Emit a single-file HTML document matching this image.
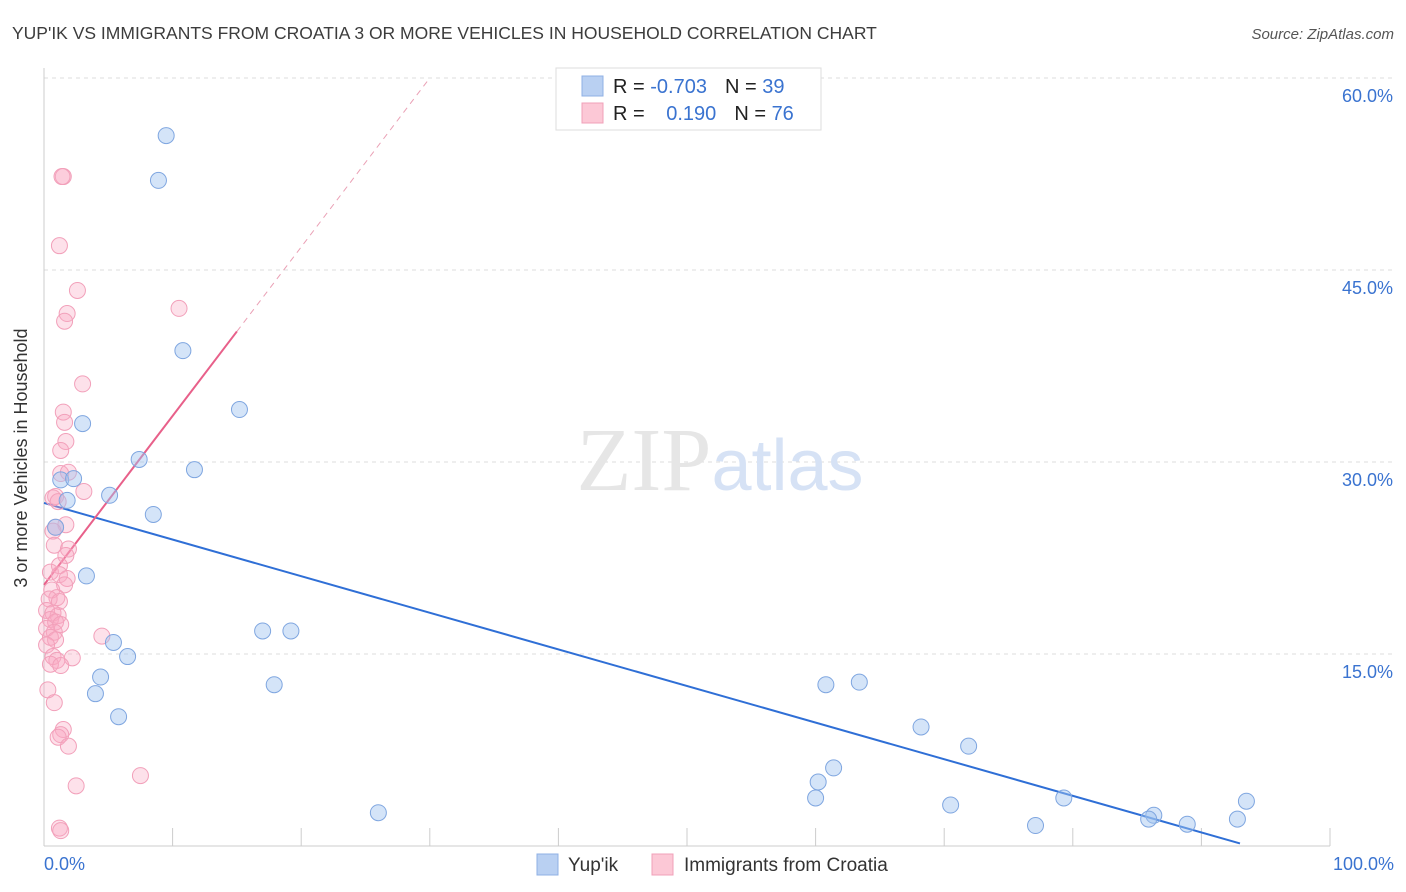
<!DOCTYPE html>
<html><head><meta charset="utf-8"><style>
body{margin:0;background:#fff;font-family:"Liberation Sans",sans-serif;}
svg{display:block}
</style></head><body>
<svg id="chart" width="1406" height="892" xmlns="http://www.w3.org/2000/svg">
<text x="12" y="39" font-size="17.5" fill="#3c3c3c">YUP'IK VS IMMIGRANTS FROM CROATIA 3 OR MORE VEHICLES IN HOUSEHOLD CORRELATION CHART</text>
<text x="1394" y="39" font-size="15" fill="#555" text-anchor="end" font-style="italic">Source: ZipAtlas.com</text>
<text x="27" y="458" font-size="18" fill="#333" text-anchor="middle" transform="rotate(-90 27 458)">3 or more Vehicles in Household</text>
<g id="grid"></g>
<g id="axes"></g>
<text x="720" y="490" font-size="90" fill="#e6e6e6" text-anchor="middle" font-family="Liberation Serif,serif">ZIP<tspan fill="#d6e2f5" font-family="Liberation Sans,sans-serif" font-size="72">atlas</tspan></text>
<g id="lines"></g>
<g id="points"></g>
<g>
<rect x="556" y="68" width="265" height="62" fill="#fff" stroke="#ddd"/>
<rect x="582" y="76" width="21" height="20" fill="#b9d0f2" stroke="#8fb0e4"/>
<rect x="582" y="103" width="21" height="20" fill="#fcc8d6" stroke="#f0a0b8"/>
<text x="613" y="93" font-size="20" fill="#222">R = <tspan fill="#3a73d0">-0.703</tspan><tspan dx="18">N = </tspan><tspan fill="#3a73d0">39</tspan></text>
<text x="613" y="120" font-size="20" fill="#222">R = <tspan fill="#3a73d0" dx="16">0.190</tspan><tspan dx="18">N = </tspan><tspan fill="#3a73d0">76</tspan></text>
</g>
<g>
<rect x="537" y="854" width="21" height="21" fill="#b9d0f2" stroke="#8fb0e4"/>
<text x="568" y="871" font-size="19" fill="#333">Yup'ik</text>
<rect x="652" y="854" width="21" height="21" fill="#fcc8d6" stroke="#f0a0b8"/>
<text x="684" y="871" font-size="19" fill="#333">Immigrants from Croatia</text>
</g>
</svg>
<script>
const yTicks=[15,30,45,60];
const yTickLabels=["15.0%","30.0%","45.0%","60.0%"];
const xEndLabels=["0.0%","100.0%"];
const blueX=[9.5,8.9,10.8,15.2,3.0,7.4,11.7,1.3,2.3,5.1,1.8,8.5,0.9,3.3,17.0,19.2,5.4,6.5,4.4,17.9,4.0,5.8,60.8,63.4,68.2,71.9,61.4,60.2,60.0,26.0,70.5,79.3,77.1,86.3,85.9,88.9,93.5,92.8];
const blueY=[55.5,52.0,38.7,34.1,33.0,30.2,29.4,28.6,28.7,27.4,27.0,25.9,24.9,21.1,16.8,16.8,15.9,14.8,13.2,12.6,11.9,10.1,12.6,12.8,9.3,7.8,6.1,5.0,3.75,2.6,3.2,3.75,1.6,2.4,2.1,1.7,3.5,2.1];
const pinkX=[1.5,1.4,1.2,2.6,10.5,1.8,1.6,3.0,1.5,1.6,1.7,1.3,1.3,1.9,3.1,0.9,0.7,1.1,1.7,0.9,0.7,0.8,1.9,1.7,1.2,0.5,1.2,1.8,1.6,0.6,1.0,0.4,1.2,0.2,0.7,1.1,0.5,0.9,1.3,0.2,0.8,0.5,0.9,4.5,0.2,0.7,2.2,1.0,0.5,1.3,0.3,0.8,1.5,1.3,1.1,1.9,7.5,2.5,1.2,1.3];
const pinkY=[52.3,52.3,46.9,43.4,42.0,41.6,41.0,36.1,33.9,33.1,31.6,30.9,29.1,29.2,27.7,27.3,27.2,26.9,25.1,24.9,24.6,23.5,23.2,22.7,21.9,21.4,21.2,20.9,20.4,20.0,19.4,19.3,19.1,18.4,18.2,18.0,17.7,17.5,17.3,17.0,16.7,16.3,16.1,16.4,15.7,14.8,14.7,14.5,14.2,14.1,12.2,11.2,9.1,8.7,8.5,7.8,5.5,4.7,1.4,1.2];
const blueFit=[26.8,-0.286];
const pinkFit=[20.4,1.32];
const NS="http://www.w3.org/2000/svg";
const sx=v=>44+v*12.86, sy=v=>846-v*12.8;
function mk(tag,attrs,parent){const e=document.createElementNS(NS,tag);for(const k in attrs)e.setAttribute(k,attrs[k]);parent.appendChild(e);return e;}
const grid=document.getElementById('grid'),axes=document.getElementById('axes'),lines=document.getElementById('lines'),pts=document.getElementById('points');
yTicks.forEach((t,i)=>{
 const l=mk('line',{x1:44,x2:1394,y1:sy(t),y2:sy(t),stroke:'#ddd','stroke-dasharray':'4 4'},grid);
 
 
 const tx=mk('text',{x:1393,y:sy(t)+24,'font-size':18,fill:'#3a73d0','text-anchor':'end'},axes);
 tx.textContent=yTickLabels[i];
 
 
});
const ya=mk('line',{x1:44,x2:44,y1:68,y2:846,stroke:'#ccc'},axes);


const xa=mk('line',{x1:44,x2:1330,y1:846,y2:846,stroke:'#ccc'},axes);


for(let i=1;i<=10;i++){
 const t=mk('line',{x1:sx(i*10),x2:sx(i*10),y1:828,y2:846,stroke:'#ccc'},axes);
 
 
}
[[0,'start',44],[100,'end',1394]].forEach((a,i)=>{
 const tx=mk('text',{x:a[2],y:870,'font-size':18,fill:'#3a73d0','text-anchor':a[1]},axes);
 tx.textContent=xEndLabels[i];
 
 
});
const bl=mk('line',{x1:sx(0),y1:sy(blueFit[0]),x2:sx(93.0),y2:sy(blueFit[0]+blueFit[1]*93.0),stroke:'#2f6fd6','stroke-width':2},lines);


const pl=mk('line',{x1:sx(0),y1:sy(pinkFit[0]),x2:sx(15),y2:sy(pinkFit[0]+pinkFit[1]*15),stroke:'#e8608a','stroke-width':2},lines);


const pd=mk('line',{x1:sx(15),y1:sy(pinkFit[0]+pinkFit[1]*15),x2:sx(30),y2:sy(pinkFit[0]+pinkFit[1]*30),stroke:'#eaa0b5','stroke-width':1,'stroke-dasharray':'6 5'},lines);


pinkX.forEach((x,i)=>{
 const c=mk('circle',{cx:sx(x),cy:sy(pinkY[i]),r:8,fill:'rgba(248,170,195,0.35)',stroke:'#f2a0ba','stroke-width':1},pts);
 
 
});
blueX.forEach((x,i)=>{
 const c=mk('circle',{cx:sx(x),cy:sy(blueY[i]),r:8,fill:'rgba(160,195,240,0.45)',stroke:'#7fa6e0','stroke-width':1},pts);
 
 
});
</script>
</body></html>
